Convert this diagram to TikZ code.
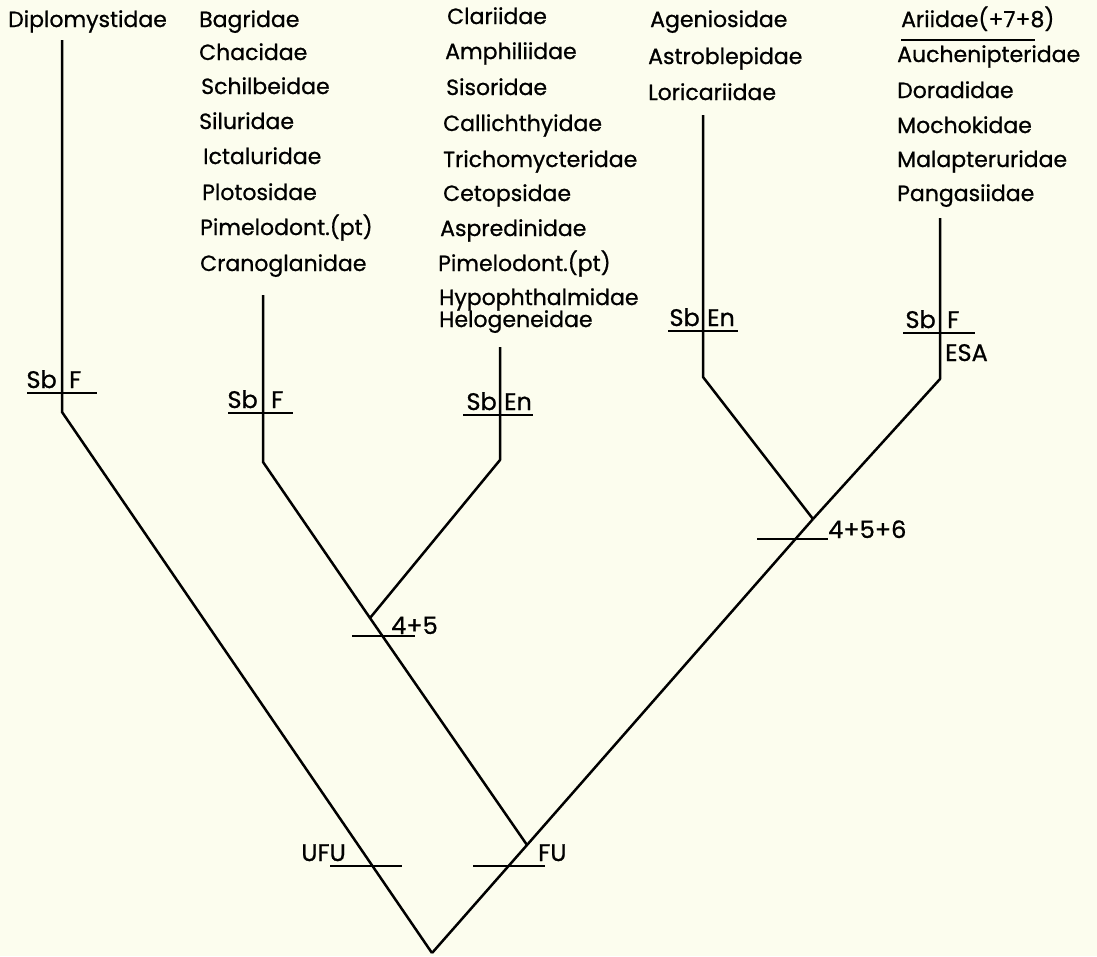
\documentclass[tikz,border=0pt]{standalone}
\usepackage{fontspec}
\setmainfont{Poppins}[UprightFeatures={FakeBold=0.8}]
\definecolor{paper}{RGB}{252,253,238}
\begin{document}
\begin{tikzpicture}[x=1pt,y=-1pt,
  br/.style={line width=2.5pt,line join=round},
  bar/.style={line width=2.5pt},
  taxon/.style={anchor=base west,inner sep=0pt,font=\fontsize{22}{22}\selectfont},
  chl/.style={anchor=base west,inner sep=0pt,font=\fontsize{24}{24}\selectfont},
  chr/.style={anchor=base east,inner sep=0pt,font=\fontsize{24}{24}\selectfont}]
\fill[paper] (0,0) rectangle (1097,956);
\useasboundingbox (0,0) rectangle (1097,956);
% coordinates
\coordinate (root) at (432,953);
\coordinate (dT) at (62,40);   \coordinate (dB) at (62,412);
\coordinate (bT) at (263,295); \coordinate (bB) at (263,462);
\coordinate (cT) at (500,347); \coordinate (cB) at (500,460);
\coordinate (aT) at (703,115); \coordinate (aB) at (703,377);
\coordinate (pT) at (940,218); \coordinate (pB) at (940,379);
\coordinate (jFU) at (527,845);
\coordinate (j45) at (370,618);
\coordinate (j456) at (813,519);
% branches
\draw[br] (dT) -- (dB) -- (root);
\draw[br] (root) -- (jFU) -- (j456);
\draw[br] (jFU) -- (j45) -- (bB) -- (bT);
\draw[br] (j45) -- (cB) -- (cT);
\draw[br] (j456) -- (aB) -- (aT);
\draw[br] (j456) -- (pB) -- (pT);
% character bars
\coordinate (b1a) at (27,393);  \coordinate (b1b) at (97,393);
\coordinate (b2a) at (228,413); \coordinate (b2b) at (293,413);
\coordinate (b3a) at (463,415); \coordinate (b3b) at (533,415);
\coordinate (b4a) at (668,331); \coordinate (b4b) at (738,331);
\coordinate (b5a) at (903,333); \coordinate (b5b) at (975,333);
\coordinate (b6a) at (352,636); \coordinate (b6b) at (415,636);
\coordinate (b7a) at (757,539); \coordinate (b7b) at (828,539);
\coordinate (b8a) at (330,866); \coordinate (b8b) at (402,866);
\coordinate (b9a) at (473,866); \coordinate (b9b) at (545,866);
\foreach \i in {1,...,9} \draw[bar] (b\i a) -- (b\i b);
% bar labels
\node[chr] (s1) at (57,388) {Sb};  \node[chl] (f1) at (69,388) {F};
\node[chr] (s2) at (258,408) {Sb}; \node[chl] (f2) at (271,408) {F};
\node[chr] (s3) at (497,410) {Sb}; \node[chl] (e3) at (504,410) {En};
\node[chr] (s4) at (700,326) {Sb}; \node[chl] (e4) at (707,326) {En};
\node[chr] (s5) at (936,328) {Sb}; \node[chl] (f5) at (947,328) {F};
\node[chl] (esa) at (945,361) {ESA};
\node[chl] (l45) at (391,634) {4+5};
\node[chl] (l456) at (828,538) {4+5+6};
\node[chr] (ufu) at (346,861) {UFU};
\node[chl] (fu) at (538,861) {FU};
% taxa
\node[taxon] (t0) at (8,27) {Diplomystidae};
\node[taxon] (l1) at (199,27) {Bagridae};
\node[taxon] (l2) at (199,60) {Chacidae};
\node[taxon] (l3) at (201,94) {Schilbeidae};
\node[taxon] (l4) at (199,129) {Siluridae};
\node[taxon] (l5) at (203,164) {Ictaluridae};
\node[taxon] (l6) at (202,200) {Plotosidae};
\node[taxon] (l7) at (200,235) {Pimelodont.(pt)};
\node[taxon] (l8) at (200,271) {Cranoglanidae};
\node[taxon] (m1) at (447,24) {Clariidae};
\node[taxon] (m2) at (445,59) {Amphiliidae};
\node[taxon] (m3) at (446,95) {Sisoridae};
\node[taxon] (m4) at (443,131) {Callichthyidae};
\node[taxon] (m5) at (443,167) {Trichomycteridae};
\node[taxon] (m6) at (443,201) {Cetopsidae};
\node[taxon] (m7) at (440,236) {Aspredinidae};
\node[taxon] (m8) at (438,271) {Pimelodont.(pt)};
\node[taxon] (m9) at (439,305) {Hypophthalmidae};
\node[taxon] (m10) at (439,327) {Helogeneidae};
\node[taxon] (a1) at (650,27) {Ageniosidae};
\node[taxon] (a2) at (648,64) {Astroblepidae};
\node[taxon] (a3) at (648,100) {Loricariidae};
\node[taxon] (r1) at (901,27) {Ariidae(+7+8)};
\draw[line width=1.8pt] (r1.base west) ++(0,13) -- ++(134,0);
\node[taxon] (r2) at (897,62) {Auchenipteridae};
\node[taxon] (r3) at (897,98) {Doradidae};
\node[taxon] (r4) at (897,133) {Mochokidae};
\node[taxon] (r5) at (897,167) {Malapteruridae};
\node[taxon] (r6) at (897,201) {Pangasiidae};
\end{tikzpicture}
\end{document}
